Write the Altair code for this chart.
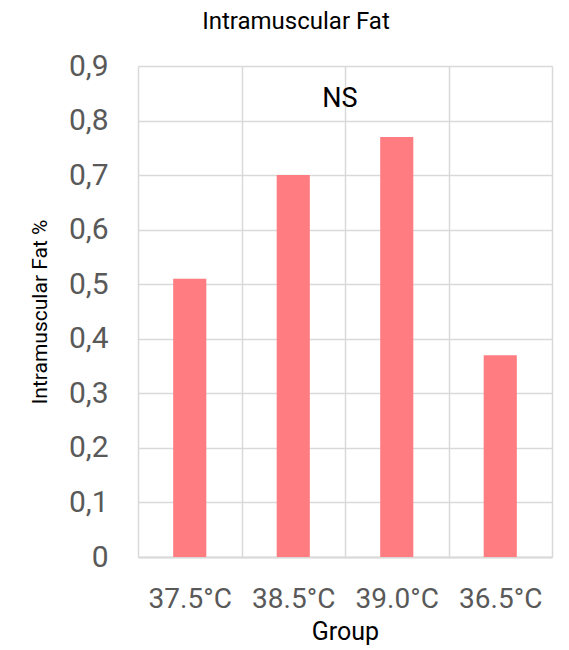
import altair as alt
import pandas as pd

groups = ["37.5°C", "38.5°C", "39.0°C", "36.5°C"]
fat_pct = [0.51, 0.70, 0.77, 0.37]
y_ticks = [0, 0.1, 0.2, 0.3, 0.4, 0.5, 0.6, 0.7, 0.8, 0.9]
note_text = ["NS"]

df = pd.DataFrame({"Group": groups, "Fat": fat_pct})
note_df = pd.DataFrame({"label": note_text, "Group": ["39.0°C"], "Fat": [0.84]})

FONT = "Roboto"

x_enc = alt.X(
    "Group:N",
    sort=groups,
    scale=alt.Scale(paddingInner=0, paddingOuter=0),
    axis=alt.Axis(
        title="Group",
        labelAngle=0,
        labelFontSize=28,
        labelColor="#595959",
        labelFont=FONT,
        labelPadding=28,
        titleFontSize=25,
        titleFont=FONT,
        titleFontWeight="normal",
        titleColor="#000000",
        titlePadding=6,
        grid=True,
        tickBand="extent",
        gridColor="#d9d9d9",
        gridWidth=1.5,
        ticks=False,
        domainColor="#d9d9d9",
        domainWidth=2,
    ),
)

y_enc = alt.Y(
    "Fat:Q",
    scale=alt.Scale(domain=[0, 0.9], nice=False),
    axis=alt.Axis(
        title="Intramuscular Fat %",
        values=y_ticks,
        labelExpr="datum.value == 0 ? '0' : replace(format(datum.value, '.1f'), '.', ',')",
        labelFontSize=30,
        labelColor="#595959",
        labelFont=FONT,
        labelPadding=30,
        titleFontSize=21,
        titleFont=FONT,
        titleFontWeight="normal",
        titleColor="#000000",
        titlePadding=18,
        grid=True,
        gridColor="#d9d9d9",
        gridWidth=1.5,
        ticks=False,
        domain=False,
    ),
)

bars = alt.Chart(df).mark_bar(color="#ff7c80", width={"band": 0.32}).encode(x=x_enc, y=y_enc)

note = alt.Chart(note_df).mark_text(fontSize=27, font=FONT, color="#000000", dx=-5).encode(
    x=alt.X("Group:N", sort=groups, bandPosition=0),
    y=alt.Y("Fat:Q"),
    text="label:N",
)

chart = (
    alt.layer(bars, note)
    .properties(
        width=414,
        height=491,
        title=alt.TitleParams(
            "Intramuscular Fat",
            fontSize=24,
            font=FONT,
            fontWeight="normal",
            color="#000000",
            dx=-49,
            offset=17,
        ),
        autosize=alt.AutoSizeParams(type="none"),
        padding={"left": 130, "top": 58, "right": 9, "bottom": 92},
    )
    .configure_view(stroke=None)
)

chart.save("out.html", embed_options={"renderer": "svg", "actions": False})
